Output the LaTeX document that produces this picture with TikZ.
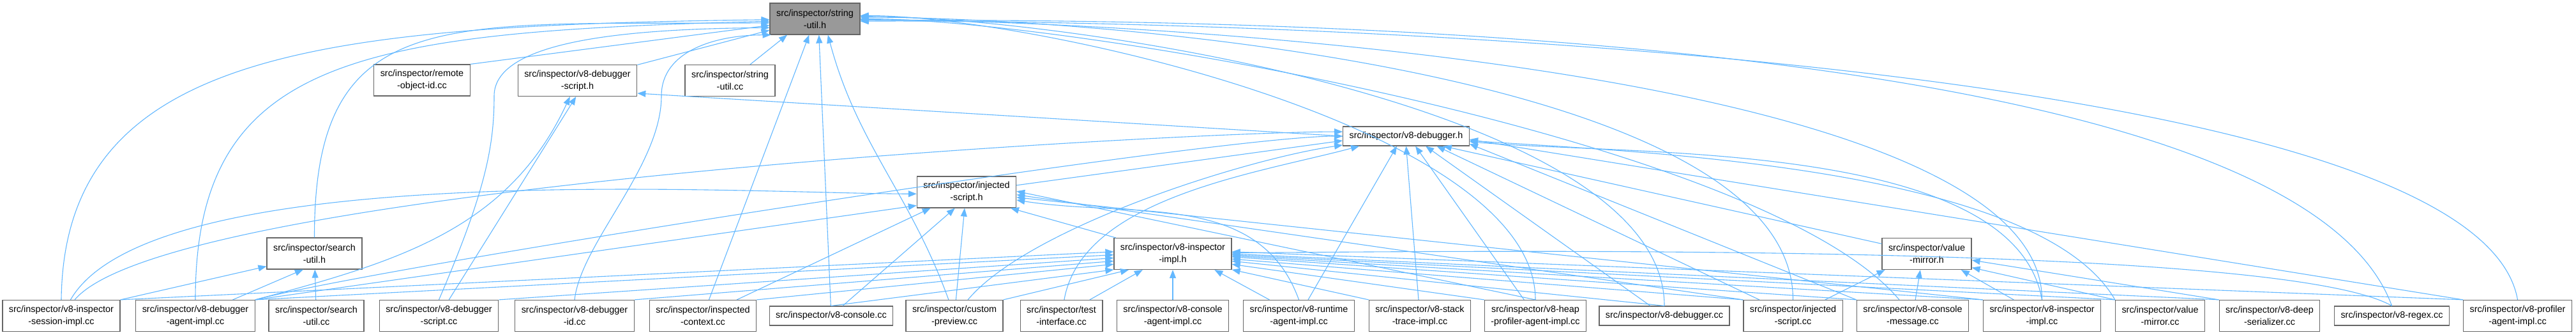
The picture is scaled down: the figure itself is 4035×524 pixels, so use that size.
\documentclass[tikz,border=0pt]{standalone}
\usepackage{fontspec}
\setmainfont{Liberation Sans}
\usepackage{tikz}
\usetikzlibrary{arrows.meta}
\definecolor{edgeblue}{HTML}{63B8FF}
\definecolor{boxline}{HTML}{666666}
\definecolor{rootgray}{HTML}{999999}
\tikzset{
  box/.style={draw=boxline,fill=white,line width=0.6pt,align=center,
              inner xsep=5pt,inner ysep=0pt,minimum height=24.5pt,
              font=\fontsize{7.2}{9.5}\selectfont},
  boxs/.style={box,minimum height=15pt},
  boxr/.style={box,fill=rootgray},
  dep/.style={draw=edgeblue,line width=0.55pt,
              -{Triangle[length=6.5pt,width=5pt]}},
}

\begin{document}
\begin{tikzpicture}[x=0.5pt, y=-0.5pt]
  \useasboundingbox[fill=white] (0,0) rectangle (4035,524);
  \node[boxr] (root) at (1276.5,29.5) {src/inspector/string\\-util.h};
  \node[box] (roid) at (661,125.5) {src/inspector/remote\\-object-id.cc};
  \node[box] (dsh) at (904.5,126) {src/inspector/v8-debugger\\-script.h};
  \node[box] (stru) at (1143.5,126) {src/inspector/string\\-util.cc};
  \node[boxs] (dh) at (2202.5,213) {src/inspector/v8-debugger.h};
  \node[box] (ish) at (1514,300.5) {src/inspector/injected\\-script.h};
  \node[box] (suh) at (492.5,396.5) {src/inspector/search\\-util.h};
  \node[box] (iih) at (1837,397) {src/inspector/v8-inspector\\-impl.h};
  \node[box] (vmh) at (3018,397) {src/inspector/value\\-mirror.h};

  \node[box] (sess) at (96,494) {src/inspector/v8-inspector\\-session-impl.cc};
  \node[box] (dagent) at (306,494) {src/inspector/v8-debugger\\-agent-impl.cc};
  \node[box] (srch) at (495.5,494) {src/inspector/search\\-util.cc};
  \node[box] (dscc) at (687.5,494) {src/inspector/v8-debugger\\-script.cc};
  \node[box] (did) at (900,494) {src/inspector/v8-debugger\\-id.cc};
  \node[box] (ictx) at (1101,494) {src/inspector/inspected\\-context.cc};
  \node[boxs] (con) at (1302,494) {src/inspector/v8-console.cc};
  \node[box] (cprev) at (1495,494) {src/inspector/custom\\-preview.cc};
  \node[box] (test) at (1662.5,494) {src/inspector/test\\-interface.cc};
  \node[box] (cagent) at (1837,494) {src/inspector/v8-console\\-agent-impl.cc};
  \node[box] (ragent) at (2034.5,494) {src/inspector/v8-runtime\\-agent-impl.cc};
  \node[box] (stack) at (2224,494) {src/inspector/v8-stack\\-trace-impl.cc};
  \node[box] (heap) at (2405,494) {src/inspector/v8-heap\\-profiler-agent-impl.cc};
  \node[boxs] (dcc) at (2607,494) {src/inspector/v8-debugger.cc};
  \node[box] (iscc) at (2808.5,494) {src/inspector/injected\\-script.cc};
  \node[box] (cmsg) at (2996,494) {src/inspector/v8-console\\-message.cc};
  \node[box] (iicc) at (3198.5,494) {src/inspector/v8-inspector\\-impl.cc};
  \node[box] (vmcc) at (3383.5,494) {src/inspector/value\\-mirror.cc};
  \node[box] (deep) at (3555,494) {src/inspector/v8-deep\\-serializer.cc};
  \node[boxs] (regex) at (3746.5,494) {src/inspector/v8-regex.cc};
  \node[box] (prof) at (3943.5,494) {src/inspector/v8-profiler\\-agent-impl.cc};

  % string-util.h
  \draw[dep] (sess.north) .. controls (100,80) and (500,40) .. (root.181);
  \draw[dep] (dagent.north) .. controls (306,90) and (560,50) .. (root.183);
  \draw[dep] (suh.north) .. controls (492,0) and (700,40) .. (root.185);
  \draw[dep] (roid.north east) -- (root.188);
  \draw[dep] (dscc.north) .. controls (760,300) and (774,230) .. (774,150)
    .. controls (774,60) and (1000,45) .. (root.191);
  \draw[dep] (dsh) -- (root.194);
  \draw[dep] (did.north) .. controls (910,380) and (1036,260) .. (1036,150)
    .. controls (1036,80) and (1120,55) .. (root.200);
  \draw[dep] (stru) -- (root.-150);
  \draw[dep] (ictx) -- (root.-110);
  \draw[dep] (con) -- (root.-76);
  \draw[dep] (cprev) to[out=110,in=-75] (root.-51);
  \draw[dep] (heap.north) to[out=90,in=0,looseness=0.6] (root.4);
  \draw[dep] (dcc.north) to[out=90,in=0,looseness=0.6] (root.3);
  \draw[dep] (iscc.north) to[out=90,in=0,looseness=0.6] (root.2);
  \draw[dep] (cmsg.130) to[out=130,in=0,looseness=0.5] (root.0);
  \draw[dep] (iicc.north) to[out=90,in=0,looseness=0.5] (root.-1);
  \draw[dep] (regex.north) .. controls (3583,32) and (1824,30) .. (root.-2);
  \draw[dep] (prof.north) .. controls (3872,65) and (1759,30) .. (root.-3);

  % v8-debugger-script.h, search-util.h
  \draw[dep] (dh.west) -- (dsh.-12);
  \draw[dep] (dagent.north east) to[out=15,in=-115] (dsh.-115);
  \draw[dep] (dscc) -- (dsh.-95);
  \draw[dep] (sess.north east) -- (suh.195);
  \draw[dep] (dagent) -- (suh.-125);
  \draw[dep] (srch) -- (suh);

  % v8-debugger.h
  \draw[dep] (sess.50) to[out=50,in=180,looseness=0.3] (dh.176);
  \draw[dep] (dagent) to[out=15,in=180,looseness=0.3] (dh.180);
  \draw[dep] (ish) -- (dh.184);
  \draw[dep] (cprev) to[out=50,in=188,looseness=0.6] (dh.188);
  \draw[dep] (test) to[out=80,in=195,looseness=0.8] (dh.192);
  \draw[dep] (ragent) -- (dh.-133);
  \draw[dep] (stack) -- (dh.-90);
  \draw[dep] (heap) -- (dh.-47);
  \draw[dep] (dcc) -- (dh.-27);
  \draw[dep] (iscc) -- (dh.-18);
  \draw[dep] (vmh) -- (dh.-15);
  \draw[dep] (cmsg.north west) -- (dh.-7);
  \draw[dep] (iicc.north) to[out=100,in=-5,looseness=0.7] (dh.-5);
  \draw[dep] (vmcc.north west) to[out=120,in=-4,looseness=0.6] (dh.-4);
  \draw[dep] (prof.north west) -- (dh.-3);

  % injected-script.h
  \draw[dep] (sess.60) to[out=60,in=180,looseness=0.5] (ish.182);
  \draw[dep] (dagent.north east) -- (ish.195);
  \draw[dep] (ictx) -- (ish.-156);
  \draw[dep] (con) -- (ish.-126);
  \draw[dep] (cprev) -- (ish.-97);
  \draw[dep] (iih) -- (ish.-20);
  \draw[dep] (ragent.north) to[out=110,in=-9] (ish.-9);
  \draw[dep] (heap.north) -- (ish.1);
  \draw[dep] (iscc.north west) -- (ish.-3);
  \draw[dep] (iicc.north west) -- (ish.-6);

  % v8-inspector-impl.h
  \draw[dep] (sess.north east) -- (iih.178);
  \draw[dep] (dagent.north east) -- (iih.181);
  \draw[dep] (dscc.north east) -- (iih.184);
  \draw[dep] (did.north east) -- (iih.187);
  \draw[dep] (ictx.north east) -- (iih.190);
  \draw[dep] (con.north) -- (iih.195);
  \draw[dep] (cprev.north east) -- (iih.-160);
  \draw[dep] (test) -- (iih.-152);
  \draw[dep] (cagent) -- (iih);
  \draw[dep] (ragent) -- (iih.-21);
  \draw[dep] (stack.north west) -- (iih.-15);
  \draw[dep] (heap.north west) -- (iih.-10);
  \draw[dep] (dcc.north) -- (iih.-7);
  \draw[dep] (iscc.north west) -- (iih.-5);
  \draw[dep] (cmsg.north west) -- (iih.-3);
  \draw[dep] (iicc.north west) -- (iih.-2);
  \draw[dep] (vmcc.north west) -- (iih.-1);
  \draw[dep] (deep.north west) -- (iih.0);
  \draw[dep] (regex.north) .. controls (3562,373) and (2142,395) .. (iih.1);
  \draw[dep] (prof.north west) -- (iih.2);

  % value-mirror.h
  \draw[dep] (iscc) -- (vmh.-159);
  \draw[dep] (cmsg) -- (vmh.-112);
  \draw[dep] (iicc) -- (vmh.-25);
  \draw[dep] (vmcc.north west) -- (vmh.-17);
  \draw[dep] (deep.north west) -- (vmh.-8);
\end{tikzpicture}
\end{document}
